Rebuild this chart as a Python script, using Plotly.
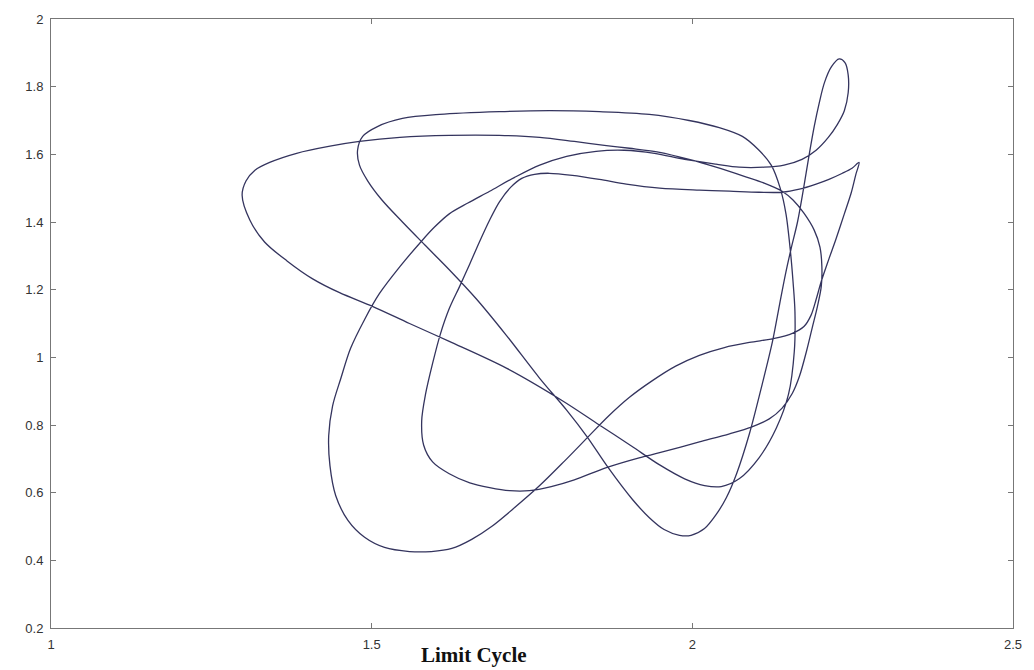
import plotly.graph_objects as go

# Phase-plane trajectory of the limit cycle (one closed orbit)
cycle_x = [
    1.298, 1.310, 1.333, 1.368, 1.408, 1.450, 1.502, 1.559, 1.621, 1.710,
    1.798, 1.855, 1.905, 1.949, 1.988, 2.019, 2.045, 2.073, 2.104, 2.131,
    2.150, 2.159, 2.160, 2.157, 2.153, 2.146, 2.137, 2.123, 2.104, 2.078,
    2.042, 1.995, 1.933, 1.855, 1.777, 1.699, 1.606, 1.548, 1.509, 1.486,
    1.478, 1.481, 1.494, 1.516, 1.548, 1.583, 1.621, 1.664, 1.710, 1.762,
    1.804, 1.836, 1.868, 1.907, 1.933, 1.956, 1.980, 1.998, 2.019, 2.037,
    2.053, 2.069, 2.089, 2.109, 2.125, 2.136, 2.145, 2.154, 2.164, 2.173,
    2.182, 2.190, 2.198, 2.206, 2.217, 2.229, 2.238, 2.243, 2.243, 2.237,
    2.226, 2.212, 2.193, 2.171, 2.143, 2.112, 2.073, 2.037, 1.988, 1.941,
    1.894, 1.850, 1.804, 1.762, 1.723, 1.684, 1.650, 1.621, 1.598, 1.578,
    1.544, 1.512, 1.489, 1.467, 1.452, 1.439, 1.433, 1.435, 1.444, 1.463,
    1.489, 1.520, 1.559, 1.593, 1.625, 1.656, 1.687, 1.723, 1.762, 1.801,
    1.836, 1.869, 1.902, 1.936, 1.974, 2.011, 2.050, 2.089, 2.128, 2.156,
    2.174, 2.185, 2.193, 2.201, 2.213, 2.224, 2.237, 2.248, 2.255, 2.260,
    2.249, 2.234, 2.213, 2.193, 2.167, 2.140, 2.104, 2.058, 2.011, 1.949,
    1.897, 1.855, 1.813, 1.777, 1.754, 1.734, 1.717, 1.699, 1.684, 1.668,
    1.653, 1.637, 1.621, 1.607, 1.595, 1.584, 1.578, 1.581, 1.595, 1.621,
    1.653, 1.684, 1.715, 1.746, 1.780, 1.816, 1.866, 1.917, 1.949, 2.011,
    2.058, 2.092, 2.120, 2.140, 2.156, 2.167, 2.178, 2.187, 2.195, 2.201,
    2.202, 2.199, 2.190, 2.174, 2.157, 2.140, 2.112, 2.081, 2.037, 1.995,
    1.949, 1.902, 1.866, 1.816, 1.762, 1.699, 1.621, 1.544, 1.481, 1.435,
    1.383, 1.341, 1.318, 1.304, 1.298,
]
cycle_y = [
    1.479, 1.406, 1.341, 1.285, 1.232, 1.191, 1.150, 1.100, 1.047, 0.968,
    0.871, 0.800, 0.738, 0.682, 0.641, 0.621, 0.618, 0.641, 0.703, 0.791,
    0.891, 1.018, 1.135, 1.224, 1.312, 1.424, 1.500, 1.568, 1.612, 1.653,
    1.679, 1.700, 1.718, 1.726, 1.729, 1.726, 1.718, 1.706, 1.682, 1.653,
    1.612, 1.568, 1.521, 1.465, 1.400, 1.332, 1.259, 1.171, 1.065, 0.938,
    0.844, 0.765, 0.676, 0.579, 0.526, 0.491, 0.474, 0.474, 0.494, 0.535,
    0.585, 0.656, 0.774, 0.921, 1.047, 1.156, 1.244, 1.321, 1.400, 1.494,
    1.597, 1.682, 1.753, 1.812, 1.859, 1.882, 1.871, 1.835, 1.782, 1.729,
    1.688, 1.650, 1.612, 1.585, 1.568, 1.562, 1.562, 1.571, 1.585, 1.603,
    1.612, 1.609, 1.594, 1.568, 1.532, 1.491, 1.456, 1.424, 1.385, 1.344,
    1.268, 1.188, 1.112, 1.026, 0.938, 0.856, 0.768, 0.679, 0.591, 0.518,
    0.468, 0.438, 0.426, 0.426, 0.435, 0.462, 0.500, 0.556, 0.621, 0.694,
    0.762, 0.826, 0.882, 0.929, 0.974, 1.006, 1.029, 1.044, 1.056, 1.071,
    1.091, 1.124, 1.171, 1.224, 1.291, 1.350, 1.424, 1.488, 1.541, 1.576,
    1.559, 1.544, 1.526, 1.512, 1.497, 1.488, 1.488, 1.491, 1.494, 1.500,
    1.512, 1.526, 1.538, 1.544, 1.541, 1.529, 1.503, 1.459, 1.406, 1.341,
    1.276, 1.209, 1.144, 1.068, 0.982, 0.891, 0.812, 0.741, 0.691, 0.656,
    0.629, 0.615, 0.606, 0.606, 0.618, 0.638, 0.674, 0.703, 0.718, 0.750,
    0.774, 0.794, 0.818, 0.850, 0.894, 0.944, 1.018, 1.088, 1.150, 1.209,
    1.268, 1.326, 1.376, 1.426, 1.465, 1.491, 1.515, 1.535, 1.562, 1.585,
    1.606, 1.618, 1.626, 1.638, 1.650, 1.656, 1.656, 1.650, 1.638, 1.624,
    1.603, 1.576, 1.553, 1.521, 1.479,
]

x_ticks = [1, 1.5, 2, 2.5]
x_tick_labels = ["1", "1.5", "2", "2.5"]
y_ticks = [0.2, 0.4, 0.6, 0.8, 1.0, 1.2, 1.4, 1.6, 1.8, 2.0]
y_tick_labels = ["0.2", "0.4", "0.6", "0.8", "1", "1.2", "1.4", "1.6", "1.8", "2"]

fig = go.Figure()
fig.add_trace(go.Scatter(
    x=cycle_x, y=cycle_y, mode="lines",
    line=dict(color="#34345e", width=1.3, shape="spline", smoothing=0.9),
    hoverinfo="skip", showlegend=False,
))

axis_common = dict(
    showgrid=False, zeroline=False, showline=True, mirror="ticks",
    linecolor="#777777", linewidth=1, ticks="inside", ticklen=5,
    tickcolor="#777777", tickfont=dict(family="Liberation Sans, Arial", size=13, color="#333333"),
)

fig.update_layout(
    width=1034, height=670,
    margin=dict(l=51, r=20, t=16, b=42),
    paper_bgcolor="white", plot_bgcolor="white",
    xaxis=dict(range=[1, 2.5], tickvals=x_ticks, ticktext=x_tick_labels,
               ticklabelstandoff=4, **axis_common),
    yaxis=dict(range=[0.2, 2], tickvals=y_ticks, ticktext=y_tick_labels,
               ticklabelstandoff=4, **axis_common),
    annotations=[dict(
        text="<b>Limit Cycle</b>", xref="paper", yref="paper",
        x=0.44, y=-0.045, xanchor="center", yanchor="middle", showarrow=False,
        font=dict(family="Liberation Serif, Times New Roman", size=21, color="#111111"),
    )],
)

fig.write_html("out.html")
